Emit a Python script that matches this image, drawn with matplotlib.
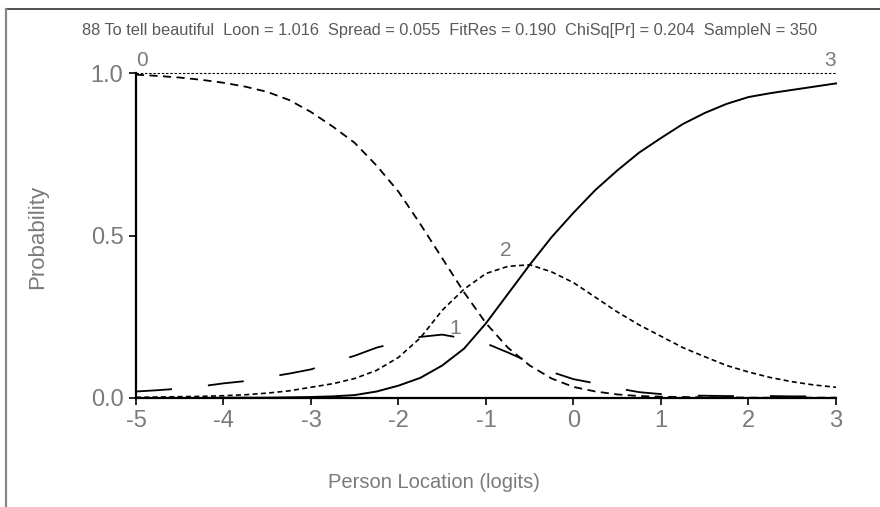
import matplotlib
matplotlib.use("Agg")
import matplotlib.pyplot as plt
from matplotlib.lines import Line2D

plt.rcParams['font.family'] = ['Liberation Sans', 'DejaVu Sans']

# ================== data ==================
x = [-5, -4.75, -4.5, -4.25, -4, -3.75, -3.5, -3.25, -3, -2.75, -2.5, -2.25,
     -2, -1.75, -1.5, -1.25, -1, -0.75, -0.5, -0.25, 0, 0.25, 0.5, 0.75,
     1, 1.25, 1.5, 1.75, 2, 2.25, 2.5, 2.75, 3]

p0 = [0.995, 0.991, 0.986, 0.979, 0.97, 0.958, 0.942, 0.917, 0.88, 0.835, 0.785, 0.715,
      0.635, 0.535, 0.43, 0.325, 0.23, 0.155, 0.1, 0.06, 0.034, 0.02, 0.011, 0.006,
      0.004, 0.003, 0.002, 0.002, 0.001, 0.001, 0.001, 0.001, 0.001]

p1 = [0.02, 0.024, 0.029, 0.036, 0.045, 0.052, 0.064, 0.075, 0.088, 0.11, 0.13, 0.155,
      0.172, 0.188, 0.195, 0.183, 0.168, 0.14, 0.11, 0.08, 0.058, 0.045, 0.03, 0.018,
      0.012, 0.008, 0.007, 0.006, 0.006, 0.006, 0.005, 0.005, 0.005]

p2 = [0.002, 0.003, 0.004, 0.005, 0.007, 0.01, 0.015, 0.022, 0.033, 0.044, 0.06, 0.085,
      0.125, 0.185, 0.27, 0.335, 0.383, 0.405, 0.41, 0.388, 0.355, 0.31, 0.265, 0.225,
      0.19, 0.155, 0.127, 0.1, 0.08, 0.063, 0.05, 0.04, 0.033]

p3 = [0.0, 0.0, 0.0, 0.0, 0.001, 0.001, 0.001, 0.002, 0.003, 0.005, 0.009, 0.02,
      0.038, 0.062, 0.1, 0.152, 0.23, 0.32, 0.41, 0.495, 0.57, 0.64, 0.70, 0.755,
      0.80, 0.843, 0.877, 0.905, 0.926, 0.938, 0.948, 0.958, 0.968]

x_ticks = [-5, -4, -3, -2, -1, 0, 1, 2, 3]
y_ticks = [0.0, 0.5, 1.0]
y_tick_labels = ["0.0", "0.5", "1.0"]

title = ("88 To tell beautiful  Loon = 1.016  Spread = 0.055  FitRes = 0.190  "
         "ChiSq[Pr] = 0.204  SampleN = 350")

GRAY = "#7a7a7a"

# ================== plot ==================
fig = plt.figure(figsize=(8.8, 5.07), dpi=100)
ax = fig.add_axes([0.1545, 0.215, 0.7955, 0.641])

ax.plot([-5, 3], [1.0, 1.0], color="black", linewidth=0.8, dashes=(2.2, 1.6), clip_on=False)

ax.plot(x, p0, color="black", linewidth=1.3, dashes=(4.5, 3.0), clip_on=False)
ax.plot(x, p1, color="black", linewidth=1.3, dashes=(20, 20), clip_on=False)
ax.plot(x, p2, color="black", linewidth=1.2, dashes=(3.0, 2.0), clip_on=False)
ax.plot(x, p3, color="black", linewidth=1.4, clip_on=False)

# category labels
ax.text(-5, 1.04, "0", color=GRAY, fontsize=15, ha="left", va="center")
ax.text(3, 1.04, "3", color=GRAY, fontsize=15, ha="right", va="center")
ax.text(-0.77, 0.455, "2", color=GRAY, fontsize=15, ha="center", va="center")
ax.text(-1.35, 0.215, "1", color=GRAY, fontsize=15, ha="center", va="center")

ax.set_xlim(-5, 3)
ax.set_ylim(0, 1)
ax.set_xticks(x_ticks)
ax.set_xticklabels([str(t) for t in x_ticks])
ax.set_yticks(y_ticks)
ax.set_yticklabels(y_tick_labels)
ax.tick_params(axis="both", direction="out", length=5, width=1.2, colors="black",
               labelcolor=GRAY, labelsize=17, pad=4)

for side in ["top", "right"]:
    ax.spines[side].set_visible(False)
for side in ["left", "bottom"]:
    ax.spines[side].set_linewidth(1.6)
    ax.spines[side].set_color("black")

# axis titles placed like the original (x title centred on the figure)
fig.text(434 / 880, 1 - 482 / 507, "Person Location (logits)", fontsize=14.5,
         color=GRAY, ha="center", va="center")
fig.text(38 / 880, 1 - 237 / 507, "Probability", fontsize=16, color=GRAY,
         rotation=90, ha="center", va="center")

fig.text(0.511, 1 - 31 / 507, title, fontsize=11.8, color="#5a5a5a", ha="center", va="center")

# outer frame (top + left only)
fig.add_artist(Line2D([6 / 880, 1], [1 - 9 / 507, 1 - 9 / 507], transform=fig.transFigure,
                      color="#333333", linewidth=1.2))
fig.add_artist(Line2D([6 / 880, 6 / 880], [0, 1 - 9 / 507], transform=fig.transFigure,
                      color="#888888", linewidth=1.6))

fig.savefig("out.png", dpi=100)
